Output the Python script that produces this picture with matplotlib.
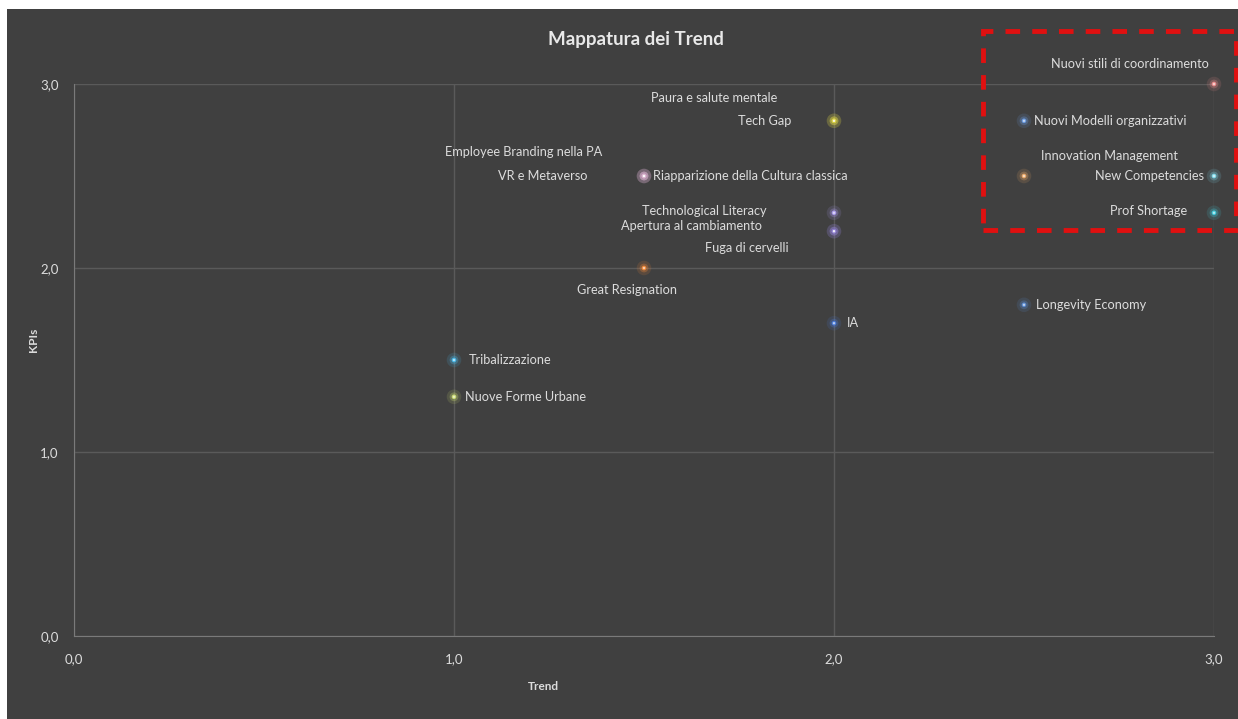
import matplotlib.pyplot as plt
from matplotlib.patches import Rectangle
from matplotlib.ticker import FuncFormatter

plt.rcParams['font.family'] = ['Lato', 'DejaVu Sans']

# dati: Trend (x) e KPIs (y)
names = ["Nuovi stili di coordinamento", "Nuovi Modelli organizzativi", "Paura e salute mentale",
         "Tech Gap", "Employee Branding nella PA", "VR e Metaverso",
         "Riapparizione della Cultura classica", "Innovation Management", "New Competencies",
         "Prof Shortage", "Technological Literacy", "Apertura al cambiamento",
         "Fuga di cervelli", "Great Resignation", "IA", "Longevity Economy",
         "Tribalizzazione", "Nuove Forme Urbane"]
trend = [3.0, 2.5, 2.0, 2.0, 1.5, 1.5, 1.5, 2.5, 3.0, 3.0, 2.0, 2.0, 2.0, 1.5, 2.0, 2.5, 1.0, 1.0]
kpi = [3.0, 2.8, 2.8, 2.8, 2.5, 2.5, 2.5, 2.5, 2.5, 2.3, 2.3, 2.2, 2.2, 2.0, 1.7, 1.8, 1.5, 1.3]
colors = ["#e88a8a", "#6a9ae0", "#d8d050", "#d8d040", "#d0a8c8", "#d0a8c8", "#d8b0cc",
          "#e8a868", "#80d8e8", "#40c8d8", "#a898e8", "#9080d0", "#9080d0", "#f08838",
          "#4a7ad8", "#5a8ad0", "#48b8e8", "#c8d870"]

# posizione etichette (offset in pixel, allineamento)
lab_pos = {
    "Nuovi stili di coordinamento": (-5, 20, "right"),
    "Nuovi Modelli organizzativi": (10, 0, "left"),
    "Paura e salute mentale": (-57, 23, "right"),
    "Tech Gap": (-43, 0, "right"),
    "Employee Branding nella PA": (-42, 24, "right"),
    "VR e Metaverso": (-56, 0, "right"),
    "Riapparizione della Cultura classica": (9, 0, "left"),
    "Innovation Management": (17, 20, "left"),
    "New Competencies": (-10, 0, "right"),
    "Prof Shortage": (-27, 2, "right"),
    "Technological Literacy": (-67, 2, "right"),
    "Apertura al cambiamento": (-72, 5, "right"),
    "Fuga di cervelli": (-45, -17, "right"),
    "Great Resignation": (-17, -22, "center"),
    "IA": (13, 0, "left"),
    "Longevity Economy": (12, 0, "left"),
    "Tribalizzazione": (15, 0, "left"),
    "Nuove Forme Urbane": (11, 0, "left"),
}

bg = "#404040"
txt = "#dcdcdc"

fig = plt.figure(figsize=(12.38, 7.19), dpi=100)
fig.patch.set_facecolor("white")
fig.patches.append(Rectangle((7 / 1238, 0), 1, 1 - 9 / 719, transform=fig.transFigure,
                             facecolor=bg, edgecolor="none", zorder=0))

ax = fig.add_axes([74 / 1238, 1 - 636 / 719, (1214 - 74) / 1238, (636 - 84) / 719])
ax.set_zorder(2)
ax.patch.set_alpha(0)
ax.set_xlim(0, 3)
ax.set_ylim(0, 3)
ax.set_xticks([0, 1, 2, 3])
ax.set_yticks([0, 1, 2, 3])
fmt = FuncFormatter(lambda v, p: ("%.1f" % v).replace(".", ","))
ax.xaxis.set_major_formatter(fmt)
ax.yaxis.set_major_formatter(fmt)
ax.grid(True, color="#5a5a5a", lw=1)
ax.set_axisbelow(True)
for s in ["top", "right"]:
    ax.spines[s].set_visible(False)
for s in ["left", "bottom"]:
    ax.spines[s].set_color("#7a7a7a")
ax.tick_params(length=0, colors=txt, labelsize=9.5)
ax.tick_params(axis="y", pad=11)
ax.tick_params(axis="x", pad=12)

# punti con effetto glow
ax.scatter(trend, kpi, s=110, c=colors, alpha=0.15, edgecolors="none", zorder=3, clip_on=False)
ax.scatter(trend, kpi, s=40, c=colors, alpha=0.3, edgecolors="none", zorder=4, clip_on=False)
ax.scatter(trend, kpi, s=11, c=colors, edgecolors="none", zorder=5, clip_on=False)
ax.scatter(trend, kpi, s=3, c="white", alpha=0.6, edgecolors="none", zorder=6, clip_on=False)

for n, x, y in zip(names, trend, kpi):
    dx, dy, ha = lab_pos[n]
    ax.annotate(n, (x, y), xytext=(dx, dy), textcoords="offset pixels",
                ha=ha, va="center", color=txt, fontsize=9.2, zorder=7)

fig.text(636 / 1238, 1 - 40 / 719, "Mappatura dei Trend", ha="center", va="center",
         color="#e8e8e8", fontsize=13.5, fontweight="bold")
fig.text(543 / 1238, 1 - 687 / 719, "Trend", ha="center", va="center",
         color=txt, fontsize=8.5, fontweight="bold")
fig.text(33 / 1238, 1 - 340 / 719, "KPIs", ha="center", va="center", rotation=90,
         color=txt, fontsize=8.5, fontweight="bold")

# riquadro rosso tratteggiato
fig.add_artist(Rectangle((983 / 1238, 1 - 230 / 719), (1236 - 983) / 1238, (230 - 31) / 719,
                         transform=fig.transFigure, facecolor="none", edgecolor="#e01010",
                         lw=3.5, linestyle=(0, (3, 2.5)), zorder=10))

fig.savefig("out.png", dpi=100, facecolor=fig.get_facecolor())
